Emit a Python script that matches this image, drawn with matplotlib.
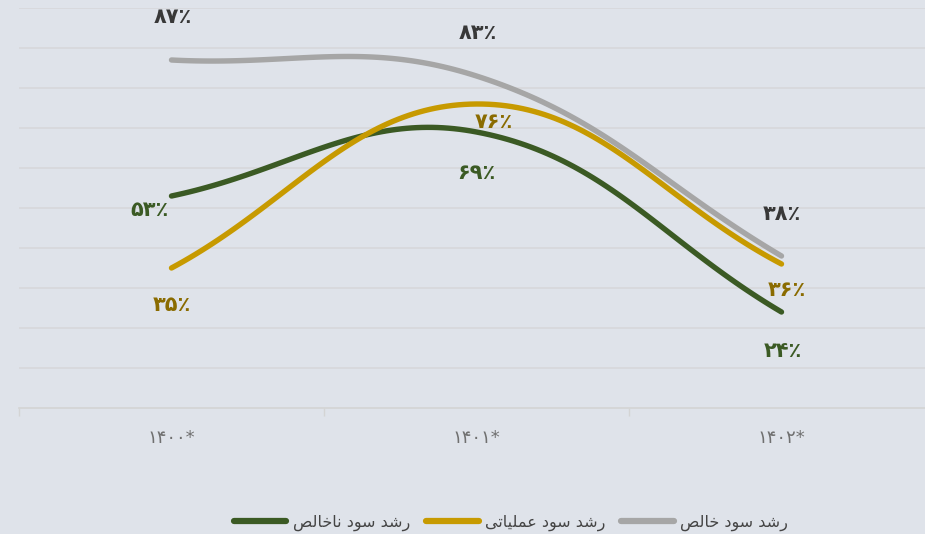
import numpy as np
import matplotlib.pyplot as plt
from matplotlib.lines import Line2D

# data
years = ['۱۴۰۰*', '۱۴۰۱*', '۱۴۰۲*']
series_names = ['رشد سود ناخالص', 'رشد سود عملیاتی', 'رشد سود خالص']
gross = [53, 69, 24]
operating = [35, 76, 36]
net = [87, 83, 38]

line_colors = ['#3b5a24', '#c79a00', '#a6a6a6']
text_colors = ['#3b5a24', '#8a6b00', '#383838']

# label offsets in pixels (dx, dy) per series / point
label_offsets = [
    [(-22, -14), (0, -41), (1, -39)],
    [(0, -37), (17, -18), (5, -26)],
    [(1, 43), (1, 43), (0, 42)],
]

BG = '#dfe3ea'
GRID = '#d6d7da'

# --- minimal arabic/persian shaping (matplotlib has no RTL shaping) ---
FORMS = {
    'ا': (0xFE8D, 0xFE8E, None, None),
    'ت': (0xFE95, 0xFE96, 0xFE97, 0xFE98),
    'خ': (0xFEA5, 0xFEA6, 0xFEA7, 0xFEA8),
    'د': (0xFEA9, 0xFEAA, None, None),
    'ر': (0xFEAD, 0xFEAE, None, None),
    'س': (0xFEB1, 0xFEB2, 0xFEB3, 0xFEB4),
    'ش': (0xFEB5, 0xFEB6, 0xFEB7, 0xFEB8),
    'ص': (0xFEB9, 0xFEBA, 0xFEBB, 0xFEBC),
    'ع': (0xFEC9, 0xFECA, 0xFECB, 0xFECC),
    'ل': (0xFEDD, 0xFEDE, 0xFEDF, 0xFEE0),
    'م': (0xFEE1, 0xFEE2, 0xFEE3, 0xFEE4),
    'ن': (0xFEE5, 0xFEE6, 0xFEE7, 0xFEE8),
    'و': (0xFEED, 0xFEEE, None, None),
    'ی': (0xFBFC, 0xFBFD, 0xFBFE, 0xFBFF),
}


def shape(text):
    out = []
    n = len(text)
    for i, ch in enumerate(text):
        if ch not in FORMS:
            out.append(ch)
            continue
        iso, fin, ini, med = FORMS[ch]
        prev = text[i - 1] if i > 0 else None
        nxt = text[i + 1] if i < n - 1 else None
        join_prev = prev in FORMS and FORMS[prev][2] is not None
        join_next = nxt in FORMS and ini is not None
        if join_prev and join_next:
            out.append(chr(med))
        elif join_prev:
            out.append(chr(fin))
        elif join_next:
            out.append(chr(ini))
        else:
            out.append(chr(iso))
    return ''.join(reversed(out))


def to_fa(v):
    return str(v).translate(str.maketrans('0123456789', '۰۱۲۳۴۵۶۷۸۹')) + '٪'


# --- chart.js style bezier (tension 0.4), computed in pixel space ---
SX, SY = 305.0, 4.0  # pixels per category / per percent


def smooth_curve(xs, ys, t=0.4, steps=60):
    p = np.column_stack([np.asarray(xs, float) * SX, np.asarray(ys, float) * SY])
    n = len(p)
    cps = []
    for i in range(n):
        prev = p[i - 1] if i > 0 else p[i]
        nxt = p[i + 1] if i < n - 1 else p[i]
        d01 = np.hypot(*(p[i] - prev))
        d12 = np.hypot(*(nxt - p[i]))
        tot = d01 + d12
        fa = t * d01 / tot if tot else 0
        fb = t * d12 / tot if tot else 0
        cps.append((p[i] - fa * (nxt - prev), p[i] + fb * (nxt - prev)))
    pts = []
    u = np.linspace(0, 1, steps)[:, None]
    for i in range(n - 1):
        a, b, c, d = p[i], cps[i][1], cps[i + 1][0], p[i + 1]
        seg = ((1 - u) ** 3) * a + 3 * ((1 - u) ** 2) * u * b + 3 * (1 - u) * u ** 2 * c + u ** 3 * d
        pts.append(seg if i == 0 else seg[1:])
    pts = np.vstack(pts)
    return pts[:, 0] / SX, pts[:, 1] / SY


plt.rcParams['font.family'] = ['DejaVu Sans']

fig = plt.figure(figsize=(9.25, 5.34), dpi=100, facecolor=BG)
W, H = 925.0, 534.0
ax = fig.add_axes([19 / W, (H - 408) / H, 915 / W, 400 / H], facecolor=BG)

x = np.arange(len(years))
all_series = [gross, operating, net]

for k, vals in enumerate(all_series):
    cx, cy = smooth_curve(x, vals)
    ax.plot(cx, cy, color=line_colors[k], lw=3.9, solid_capstyle='round',
            clip_on=False, zorder=3 + k)

for k, vals in enumerate(all_series):
    for i, v in enumerate(vals):
        ax.annotate(to_fa(v), (x[i], v), xytext=label_offsets[k][i],
                    textcoords='offset pixels', ha='center', va='center',
                    fontsize=15, fontweight='bold', color=text_colors[k],
                    annotation_clip=False, zorder=10)

ax.set_xlim(-0.5, 2.5)
ax.set_ylim(0, 100)
ax.set_yticks(np.arange(10, 101, 10))
ax.yaxis.grid(True, color=GRID, lw=1.1)
ax.set_axisbelow(True)
ax.tick_params(axis='y', length=0, labelleft=False)

ax.set_xticks(x)
ax.set_xticklabels(years, fontsize=13, color='#707070')
ax.set_xticks(np.arange(-0.5, 2.6, 1), minor=True)
ax.tick_params(axis='x', which='major', length=0, pad=15)
ax.tick_params(axis='x', which='minor', length=6, color='#d4d4d4', width=1)

for s in ['top', 'right', 'left']:
    ax.spines[s].set_visible(False)
ax.spines['bottom'].set_color('#d4d4d4')
ax.spines['bottom'].set_linewidth(1.2)

handles = [Line2D([], [], color=line_colors[k], lw=4.5, solid_capstyle='round')
           for k in range(3)]
fig.legend(handles, [shape(s) for s in series_names], loc='center',
           bbox_to_anchor=(511 / W, 1 - 523 / H), ncol=3, frameon=False,
           fontsize=11.5, labelcolor='#444444', handlelength=3.3,
           handletextpad=0.4, columnspacing=1.0)

fig.savefig('out.png', dpi=100, facecolor=BG)
